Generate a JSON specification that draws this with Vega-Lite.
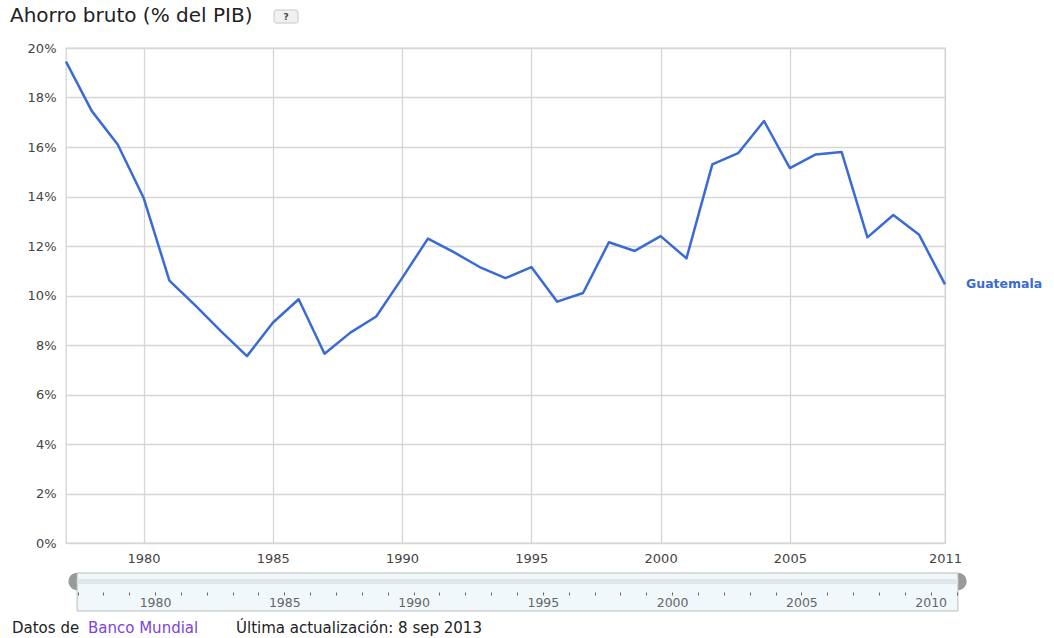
{
  "$schema": "https://vega.github.io/schema/vega-lite/v6.json",
  "width": 879,
  "height": 495,
  "autosize": {"type": "none"},
  "padding": {"left": 66, "top": 48, "right": 109, "bottom": 95},
  "background": "white",
  "config": {
    "font": "DejaVu Sans",
    "view": {"stroke": "#d6d6d6", "strokeWidth": 1.3}
  },
  "data": {
    "values": [
      {"year": 1977, "ahorro": 19.45, "pais": "Guatemala"},
      {"year": 1978, "ahorro": 17.45, "pais": "Guatemala"},
      {"year": 1979, "ahorro": 16.1, "pais": "Guatemala"},
      {"year": 1980, "ahorro": 13.95, "pais": "Guatemala"},
      {"year": 1981, "ahorro": 10.6, "pais": "Guatemala"},
      {"year": 1982, "ahorro": 9.6, "pais": "Guatemala"},
      {"year": 1983, "ahorro": 8.55, "pais": "Guatemala"},
      {"year": 1984, "ahorro": 7.55, "pais": "Guatemala"},
      {"year": 1985, "ahorro": 8.9, "pais": "Guatemala"},
      {"year": 1986, "ahorro": 9.85, "pais": "Guatemala"},
      {"year": 1987, "ahorro": 7.65, "pais": "Guatemala"},
      {"year": 1988, "ahorro": 8.5, "pais": "Guatemala"},
      {"year": 1989, "ahorro": 9.15, "pais": "Guatemala"},
      {"year": 1990, "ahorro": 10.7, "pais": "Guatemala"},
      {"year": 1991, "ahorro": 12.3, "pais": "Guatemala"},
      {"year": 1992, "ahorro": 11.75, "pais": "Guatemala"},
      {"year": 1993, "ahorro": 11.15, "pais": "Guatemala"},
      {"year": 1994, "ahorro": 10.7, "pais": "Guatemala"},
      {"year": 1995, "ahorro": 11.15, "pais": "Guatemala"},
      {"year": 1996, "ahorro": 9.75, "pais": "Guatemala"},
      {"year": 1997, "ahorro": 10.1, "pais": "Guatemala"},
      {"year": 1998, "ahorro": 12.15, "pais": "Guatemala"},
      {"year": 1999, "ahorro": 11.8, "pais": "Guatemala"},
      {"year": 2000, "ahorro": 12.4, "pais": "Guatemala"},
      {"year": 2001, "ahorro": 11.5, "pais": "Guatemala"},
      {"year": 2002, "ahorro": 15.3, "pais": "Guatemala"},
      {"year": 2003, "ahorro": 15.75, "pais": "Guatemala"},
      {"year": 2004, "ahorro": 17.05, "pais": "Guatemala"},
      {"year": 2005, "ahorro": 15.15, "pais": "Guatemala"},
      {"year": 2006, "ahorro": 15.7, "pais": "Guatemala"},
      {"year": 2007, "ahorro": 15.8, "pais": "Guatemala"},
      {"year": 2008, "ahorro": 12.35, "pais": "Guatemala"},
      {"year": 2009, "ahorro": 13.25, "pais": "Guatemala"},
      {"year": 2010, "ahorro": 12.45, "pais": "Guatemala"},
      {"year": 2011, "ahorro": 10.45, "pais": "Guatemala"}
    ]
  },
  "resolve": {"scale": {"x": "shared", "y": "shared"}, "axis": {"x": "independent"}},
  "layer": [
    {
      "mark": {"type": "line", "color": "#3a6bd4", "strokeWidth": 2.5, "strokeJoin": "round"},
      "encoding": {
        "x": {
          "field": "year",
          "type": "quantitative",
          "scale": {"domain": [1977, 2011], "nice": false, "zero": false},
          "axis": {
            "title": null,
            "values": [1980, 1985, 1990, 1995, 2000, 2005, 2011],
            "format": "d",
            "grid": true,
            "gridColor": "#d6d6d6",
            "gridWidth": 1.3,
            "domain": false,
            "ticks": false,
            "labelPadding": 9,
            "labelFont": "DejaVu Sans",
            "labelFontSize": 13,
            "labelColor": "#444444",
            "labelFlush": false,
            "labelOverlap": false,
            "labelBound": false
          }
        },
        "y": {
          "field": "ahorro",
          "type": "quantitative",
          "scale": {"domain": [0, 20], "nice": false, "zero": true},
          "axis": {
            "title": null,
            "values": [0, 2, 4, 6, 8, 10, 12, 14, 16, 18, 20],
            "labelExpr": "datum.value + '%'",
            "grid": true,
            "gridColor": "#d6d6d6",
            "gridWidth": 1.3,
            "domain": false,
            "ticks": false,
            "labelPadding": 10,
            "labelFont": "DejaVu Sans",
            "labelFontSize": 13,
            "labelColor": "#444444"
          }
        }
      }
    },
    {
      "transform": [{"filter": "datum.year == 2011"}],
      "mark": {"type": "text", "align": "left", "baseline": "middle", "dx": 21, "font": "DejaVu Sans", "fontSize": 12.5, "fontWeight": "bold", "color": "#3a6bd4"},
      "encoding": {
        "x": {"field": "year", "type": "quantitative", "axis": null},
        "y": {"field": "ahorro", "type": "quantitative"},
        "text": {"field": "pais"}
      }
    },
    {
      "data": {"values": [{"parte": "handle"}]},
      "mark": {"type": "point", "shape": "M0,-1A1,1 0 0 0 0,1Z", "filled": true, "color": "#9a9a9a", "opacity": 1, "size": 300},
      "encoding": {
        "x": {"datum": 1977.43, "type": "quantitative", "axis": null},
        "y": {"value": 533.5}
      }
    },
    {
      "data": {"values": [{"parte": "handle"}]},
      "mark": {"type": "point", "shape": "M0,-1A1,1 0 0 1 0,1Z", "filled": true, "color": "#9a9a9a", "opacity": 1, "size": 300},
      "encoding": {
        "x": {"datum": 2011.5, "type": "quantitative", "axis": null},
        "y": {"value": 533.5}
      }
    },
    {
      "data": {"values": [{"parte": "slider"}]},
      "mark": {"type": "rect", "fill": "#f1f8fb", "stroke": "#bdbdbd", "strokeWidth": 1},
      "encoding": {
        "x": {
          "datum": 1977.43,
          "type": "quantitative",
          "axis": {
            "title": null,
            "orient": "bottom",
            "offset": 49,
            "values": [1977, 1978, 1979, 1980, 1981, 1982, 1983, 1984, 1985, 1986, 1987, 1988, 1989, 1990, 1991, 1992, 1993, 1994, 1995, 1996, 1997, 1998, 1999, 2000, 2001, 2002, 2003, 2004, 2005, 2006, 2007, 2008, 2009, 2010, 2011],
            "format": "d",
            "labelExpr": "datum.value % 5 == 0 ? datum.label : ''",
            "grid": false,
            "domain": false,
            "ticks": true,
            "tickSize": 3,
            "tickColor": "#666666",
            "tickWidth": 1,
            "tickOffset": 11.5,
            "labelPadding": 1,
            "labelFont": "DejaVu Sans",
            "labelFontSize": 12.5,
            "labelColor": "#666666",
            "labelFlush": false,
            "labelOverlap": false,
            "labelBound": false,
            "zindex": 1
          }
        },
        "x2": {"datum": 2011.5},
        "y": {"value": 525},
        "y2": {"value": 563}
      }
    },
    {
      "data": {"values": [{"parte": "band"}]},
      "mark": {"type": "rect", "fill": "#e0e7eb"},
      "encoding": {
        "x": {"datum": 1977.43, "type": "quantitative", "axis": null},
        "x2": {"datum": 2011.5},
        "y": {"value": 531},
        "y2": {"value": 536}
      }
    },
    {
      "data": {"values": [{"parte": "titulo"}]},
      "mark": {"type": "text", "text": "Ahorro bruto (% del PIB)", "font": "DejaVu Sans", "fontSize": 20, "color": "#222222", "align": "left", "baseline": "alphabetic"},
      "encoding": {
        "x": {"value": -56},
        "y": {"value": -26}
      }
    },
    {
      "data": {"values": [{"parte": "help"}]},
      "mark": {"type": "rect", "fill": "#f0f0f0", "stroke": "#c8c8c8", "cornerRadius": 2},
      "encoding": {
        "x": {"value": 208},
        "x2": {"value": 232},
        "y": {"value": -38},
        "y2": {"value": -25}
      }
    },
    {
      "data": {"values": [{"parte": "help"}]},
      "mark": {"type": "text", "text": "?", "font": "DejaVu Sans", "fontSize": 9, "fontWeight": "bold", "color": "#444444", "align": "center", "baseline": "middle"},
      "encoding": {
        "x": {"value": 220},
        "y": {"value": -31.5}
      }
    },
    {
      "data": {"values": [{"parte": "fuente"}]},
      "mark": {"type": "text", "text": "Datos de", "font": "DejaVu Sans", "fontSize": 15, "color": "#222222", "align": "left", "baseline": "alphabetic"},
      "encoding": {
        "x": {"value": -54},
        "y": {"value": 585}
      }
    },
    {
      "data": {"values": [{"parte": "fuente"}]},
      "mark": {"type": "text", "text": "Banco Mundial", "font": "DejaVu Sans", "fontSize": 15, "color": "#7c43de", "align": "left", "baseline": "alphabetic"},
      "encoding": {
        "x": {"value": 22},
        "y": {"value": 585}
      }
    },
    {
      "data": {"values": [{"parte": "fuente"}]},
      "mark": {"type": "text", "text": "Última actualización: 8 sep 2013", "font": "DejaVu Sans", "fontSize": 15, "color": "#222222", "align": "left", "baseline": "alphabetic"},
      "encoding": {
        "x": {"value": 170},
        "y": {"value": 585}
      }
    }
  ]
}
